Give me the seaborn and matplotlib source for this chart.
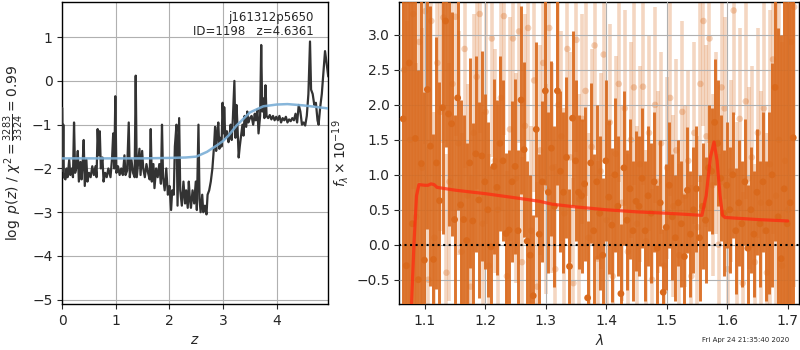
import numpy as np
import pandas as pd
import matplotlib
matplotlib.use("Agg")
import matplotlib.pyplot as plt
import seaborn as sns

# ---------------- data: left panel (log p(z)) ----------------
z_grid = [0.00, 0.01, 0.02, 0.03, 0.06, 0.08, 0.10, 0.13, 0.15, 0.18, 0.20, 0.22, 0.24, 0.27, 0.29,
          0.31, 0.34, 0.36, 0.38, 0.40, 0.42, 0.45, 0.47, 0.50, 0.53, 0.56, 0.59, 0.62, 0.64, 0.66,
          0.68, 0.70, 0.72, 0.75, 0.77, 0.80, 0.83, 0.86, 0.90, 0.93, 0.95, 0.97, 0.99, 1.01, 1.04,
          1.07, 1.10, 1.13, 1.16, 1.18, 1.21, 1.24, 1.26, 1.29, 1.32, 1.35, 1.37, 1.39, 1.42, 1.44,
          1.46, 1.49, 1.51, 1.54, 1.57, 1.60, 1.63, 1.65, 1.67, 1.70, 1.72, 1.75, 1.78, 1.81, 1.84,
          1.86, 1.88, 1.91, 1.94, 1.97, 2.00, 2.03, 2.05, 2.08, 2.10, 2.13, 2.15, 2.18, 2.20, 2.23,
          2.26, 2.29, 2.31, 2.34, 2.36, 2.38, 2.40, 2.43, 2.46, 2.49, 2.51, 2.54, 2.56, 2.58, 2.61,
          2.63, 2.66, 2.69, 2.71, 2.74, 2.77, 2.80, 2.83, 2.85, 2.87, 2.89, 2.91, 2.93, 2.95, 2.97,
          2.99, 3.01, 3.02, 3.04, 3.07, 3.10, 3.12, 3.14, 3.16, 3.18, 3.21, 3.23, 3.25, 3.27, 3.29,
          3.31, 3.33, 3.36, 3.38, 3.40, 3.43, 3.45, 3.47, 3.50, 3.53, 3.56, 3.59, 3.61, 3.64, 3.66,
          3.69, 3.71, 3.73, 3.75, 3.77, 3.79, 3.81, 3.84, 3.87, 3.90, 3.93, 3.96, 3.99, 4.02, 4.05,
          4.08, 4.11, 4.14, 4.17, 4.20, 4.23, 4.26, 4.29, 4.32, 4.35, 4.38, 4.41, 4.44, 4.47, 4.50,
          4.53, 4.56, 4.59, 4.62, 4.64, 4.67, 4.70, 4.73, 4.76, 4.78, 4.81, 4.84, 4.87, 4.90, 4.93,
          4.96]
logpz = [-0.62, -2.05, -1.00, -2.20, -2.25, -2.00, -2.20, -1.80, -2.15, -2.00, -2.20, -0.95, -2.10, -1.95, -1.60,
         -2.30, -1.85, -2.25, -1.90, -1.35, -2.40, -1.80, -2.30, -2.10, -2.20, -1.95, -2.15, -1.95, -2.20, -1.10,
         -1.70, -1.15, -2.00, -1.75, -2.30, -2.10, -2.20, -2.00, -2.20, -1.75, -1.20, -2.00, -0.35, -2.10, -1.95,
         -2.15, -2.00, -2.15, -1.70, -2.15, -2.05, -0.95, -2.20, -1.80, -2.10, -2.20, 0.12, -2.20, -1.80, -1.55,
         -2.15, -1.60, -2.00, -2.20, -1.90, -2.10, -2.25, -1.10, -2.30, -1.90, -2.45, -2.00, -2.20, -1.90, -2.35,
         -1.00, -2.20, -2.50, -2.00, -2.60, -2.40, -2.95, -2.50, -2.60, -1.50, -1.00, -2.85, -0.85, -2.50, -2.85,
         -2.30, -2.80, -2.50, -2.90, -2.30, -2.70, -2.90, -2.50, -2.80, -2.30, -2.95, -1.00, -2.70, -3.00, -2.60,
         -3.00, -2.85, -3.05, -2.60, -2.50, -2.30, -2.00, -1.50, -1.05, -1.60, -1.20, -0.95, -1.55, -1.30, -1.50,
         -0.50, -1.20, -0.60, -1.30, -1.15, -1.40, -1.25, -1.00, -1.35, -0.90, 0.00, -1.30, -0.55, -1.10, -1.75,
         -1.50, -1.30, -1.00, -1.25, -0.80, -1.05, -0.70, -0.95, -0.85, -0.80, -1.00, -0.75, -0.90, -0.65, -1.20,
         -0.80, 0.82, -0.70, -0.40, -0.85, -0.10, -0.80, -0.85, -0.78, -0.88, -0.80, -0.90, -0.82, -0.90, -0.80,
         -0.95, -0.85, -0.90, -0.82, -0.95, -0.88, -0.92, -0.85, -0.90, -0.75, -0.95, -0.55, -0.70, -1.00, -0.95,
         -1.02, -0.80, -0.30, 0.90, -0.20, -0.30, -0.55, -0.50, -0.90, -1.00, -0.60, -0.30, 0.20, 0.68, 0.40,
         0.10]
z_prior = [0.0, 0.5, 1.0, 1.5, 2.0, 2.3, 2.5, 2.7, 2.9, 3.0, 3.1, 3.25, 3.5, 3.75, 4.0, 4.2, 4.5, 4.7, 4.96]
logp_prior = [-1.77, -1.77, -1.77, -1.77, -1.76, -1.75, -1.73, -1.62, -1.46, -1.37, -1.25, -1.02, -0.72, -0.58, -0.54,
              -0.53, -0.56, -0.59, -0.63]

# ---------------- data: right panel (spectrum) ----------------
dark_lam_start, dark_lam_step = 1.064, 0.005
dark_flux = [1.80, -0.30, 2.60,
             0.30, 1.52, -0.50, 1.16, -0.22, 2.22, 1.41, -0.21, 1.17, 0.63,
             1.96, 3.20, 1.87, 1.73, 0.36, 2.10, 0.57, 0.36, 0.06, 1.17,
             0.34, 1.30, 0.64, 1.27, 0.90, 0.50, -0.03, 1.12, 0.82, 1.45,
             1.20, 0.16, 0.21, 0.90, 1.12, 0.20, 2.07, 1.36, 0.05, -0.15,
             -0.73, 1.65, 0.15, 0.90, 2.20, 0.75, 1.38, 0.55, 2.20, 1.05,
             0.75, 1.25, -0.31, 1.81, 1.20, 0.75, 0.70, 0.87, -0.76, 1.17,
             0.20, 0.90, 0.45, -0.15, 1.20, 0.68, 0.28, 1.00, 0.55, -0.70,
             1.10, 0.35, 0.80, 0.20, 0.62, 0.55, 0.95, 0.20, 0.70, 0.45,
             0.90, -0.05, 0.60, -0.68, 0.25, 0.85, 0.40, 0.10, 0.60, 0.30,
             -0.17, 0.78, 0.15, 0.50, 0.80, 0.10, 0.55, 0.35, 1.10, 1.05,
             1.75, 1.45, 0.95, 0.45, 0.85, 0.50, 1.00, 0.20, 0.60, 0.30,
             0.90, -0.05, 0.50, 0.15, 0.75, 0.30, 0.90, 0.20, 0.60, 1.00,
             2.25, 0.40, -0.20, 0.80, 0.30, 0.60, 1.53]
dark_err = [6.0, 6.0, 5.0,
            4.0, 3.5, 3.0, 2.6, 2.4, 2.0, 2.0, 1.8, 1.8, 1.7,
            1.8, 1.8, 1.6, 1.6, 1.5, 1.6, 1.5, 1.5, 1.4, 1.5,
            1.4, 1.4, 1.4, 1.5, 1.25, 1.25, 1.15, 1.25, 1.25, 1.25,
            1.15, 1.15, 1.15, 1.15, 1.25, 1.15, 1.35, 1.25, 1.15, 1.15,
            1.15, 1.25, 1.15, 1.15, 1.35, 1.15, 1.25, 1.15, 1.35, 1.15,
            1.15, 1.15, 1.1, 1.25, 1.15, 1.1, 1.1, 1.1, 1.1, 1.15,
            1.1, 1.1, 1.1, 1.1, 1.15, 1.1, 1.1, 1.1, 1.0, 1.0,
            1.1, 1.0, 1.0, 1.0, 1.0, 1.0, 1.0, 1.0, 1.0, 1.0,
            1.0, 0.9, 0.9, 0.9, 0.9, 0.9, 0.9, 0.9, 0.9, 0.9,
            0.9, 0.9, 0.9, 0.9, 0.9, 0.9, 0.9, 0.9, 0.9, 0.9,
            0.9, 0.9, 0.9, 0.9, 0.9, 0.9, 0.9, 0.9, 0.9, 0.9,
            0.9, 0.9, 0.9, 0.9, 0.9, 0.9, 1.0, 1.0, 1.3, 1.6,
            2.2, 2.7, 3.2, 3.6, 4.0, 4.0, 4.0]

light_lam_start, light_lam_step = 1.0655, 0.005
light_flux = [2.50, -0.30, 1.50, 3.30, 0.40, 2.90, 1.10, 3.34, -0.50, 3.20,
              0.10, 2.60, 1.90, 3.25, -0.40, 0.90, 2.30, 3.26, 1.45, -0.10,
              2.80, 0.70, -0.60, 1.60, 2.40, 3.30, 0.30, 1.90, -0.30, 2.95,
              1.20, 0.50, 2.10, 3.27, -0.45, 1.65, 2.95, 0.95, 3.05, -0.25,
              1.70, 3.10, 0.20, 2.35, -0.60, 1.35, 2.60, 0.80, 3.10, 1.10,
              -0.35, 2.00, 1.55, 0.45, 2.80, 1.25, -0.55, 2.93, 0.65, 1.80,
              2.20, 0.10, 1.40, 2.85, -0.20, 1.05, 2.72, 0.35, 1.75, -0.45,
              1.30, 2.30, 0.60, 1.95, -0.10, 1.50, 2.25, 0.30, 1.15, 2.26,
              0.05, 1.60, -0.50, 2.00, 0.90, 1.45, -0.30, 1.10, 2.10, 0.55,
              1.35, -0.15, 1.90, 0.70, 1.20, -0.45, 1.60, 0.25, 2.30, 3.20,
              1.55, 2.95, 0.85, 1.45, 0.00, 2.25, 1.95, -0.35, 1.05, 3.35,
              0.45, 1.80, -0.55, 2.05, 0.95, 1.25, -0.25, 1.60, 0.60, 1.95,
              -0.40, 1.15, 2.65, 0.70, 1.50, -0.30, 1.20, 0.50, 2.90, 3.40]
light_err = [4.0, 3.5, 3.0, 2.5, 2.2, 2.0, 2.0, 1.9, 1.9, 1.8,
             1.8, 1.8, 1.7, 1.8, 1.7, 1.7, 1.8, 1.7, 1.6, 1.7,
             1.7, 1.6, 1.6, 1.7, 1.6, 1.7, 1.6, 1.6, 1.6, 1.7,
             1.6, 1.5, 1.6, 1.7, 1.5, 1.6, 1.6, 1.5, 1.6, 1.5,
             1.6, 1.6, 1.5, 1.6, 1.5, 1.5, 1.6, 1.5, 1.6, 1.5,
             1.5, 1.5, 1.5, 1.5, 1.6, 1.5, 1.5, 1.6, 1.5, 1.5,
             1.5, 1.5, 1.4, 1.5, 1.4, 1.4, 1.5, 1.4, 1.4, 1.4,
             1.4, 1.4, 1.4, 1.4, 1.4, 1.4, 1.4, 1.4, 1.4, 1.4,
             1.3, 1.4, 1.3, 1.4, 1.3, 1.3, 1.3, 1.3, 1.4, 1.3,
             1.3, 1.3, 1.3, 1.3, 1.3, 1.3, 1.3, 1.3, 1.4, 1.5,
             1.3, 1.5, 1.3, 1.3, 1.3, 1.4, 1.3, 1.3, 1.3, 1.5,
             1.3, 1.3, 1.3, 1.4, 1.3, 1.3, 1.4, 1.5, 1.6, 1.8,
             2.0, 2.2, 2.5, 2.8, 3.0, 3.2, 3.5, 3.8, 4.0, 4.0]

model_lam = [1.0775, 1.0820, 1.0860, 1.0900, 1.1000, 1.1050, 1.1100, 1.1150, 1.1200, 1.1500,
             1.2000, 1.2500, 1.2900, 1.3100, 1.3500, 1.4000, 1.4500, 1.5000, 1.5400, 1.5580,
             1.5650, 1.5720, 1.5780, 1.5830, 1.5880, 1.5920, 1.5960, 1.6500, 1.7000]
model_flux = [-0.90, 0.05, 0.70, 0.86, 0.85, 0.85, 0.87, 0.86, 0.82, 0.78,
              0.73, 0.67, 0.62, 0.58, 0.54, 0.50, 0.47, 0.45, 0.43, 0.42,
              0.70, 1.25, 1.47, 1.20, 0.70, 0.42, 0.39, 0.36, 0.34]

annot_text = "j161312p5650\nID=1198   z=4.6361"
stamp_text = "Fri Apr 24 21:35:40 2020"

# ---------------- build frames ----------------
dark_lam = dark_lam_start + dark_lam_step * np.arange(len(dark_flux))
light_lam = light_lam_start + light_lam_step * np.arange(len(light_flux))
df_pz = pd.DataFrame({"z": z_grid, "logp": logpz})
df_prior = pd.DataFrame({"z": z_prior, "logp": logp_prior})
df_dark = pd.DataFrame({"lam": dark_lam, "flux": dark_flux, "err": dark_err})
df_light = pd.DataFrame({"lam": light_lam, "flux": light_flux, "err": light_err})
df_model = pd.DataFrame({"lam": model_lam, "flux": model_flux})

sns.set_style("white")
plt.rcParams["font.family"] = ["DejaVu Sans"]
plt.rcParams["mathtext.fontset"] = "dejavusans"

fig = plt.figure(figsize=(8, 3.5), dpi=100)
ax1 = fig.add_axes([0.0778, 0.131, 0.3325, 0.863])
ax2 = fig.add_axes([0.4991, 0.131, 0.5, 0.863])

orange = "#d9691c"

# left panel
sns.lineplot(data=df_pz, x="z", y="logp", ax=ax1, color="#333333", lw=1.6,
             sort=False, estimator=None, zorder=3)
sns.lineplot(data=df_prior, x="z", y="logp", ax=ax1, color="#7aaed6", lw=1.8,
             sort=False, estimator=None, zorder=4, alpha=0.9)
ax1.set_xlim(0, 4.96)
ax1.set_ylim(-5.1, 1.8)
ax1.set_xticks([0, 1, 2, 3, 4])
ax1.set_yticks([-5, -4, -3, -2, -1, 0, 1])
ax1.grid(True, color="#b0b0b0", lw=0.8)
ax1.set_xlabel("$z$", fontsize=10)
ax1.set_ylabel(r"$\log\ p(z)$ / $\chi^2=\frac{3283}{3324}=0.99$", fontsize=10)
ax1.text(0.945, 0.97, annot_text, transform=ax1.transAxes, ha="right", va="top",
         fontsize=8.5, linespacing=1.1, zorder=5)

# right panel
ax2.errorbar(df_light["lam"], df_light["flux"], yerr=df_light["err"], fmt="none",
             ecolor=orange, elinewidth=2.6, alpha=0.27, zorder=2)
sns.scatterplot(data=df_light, x="lam", y="flux", ax=ax2, color=orange, s=22,
                alpha=0.3, edgecolor="none", zorder=2)
ax2.errorbar(df_dark["lam"], df_dark["flux"], yerr=df_dark["err"], fmt="none",
             ecolor=orange, elinewidth=2.1, alpha=0.92, zorder=3)
sns.scatterplot(data=df_dark, x="lam", y="flux", ax=ax2, color=orange, s=24,
                edgecolor="none", zorder=4)
sns.lineplot(data=df_model, x="lam", y="flux", ax=ax2, color="#ff2a10", lw=2.3,
             alpha=0.75, sort=False, estimator=None, zorder=5)
ax2.axhline(0, color="black", ls=":", lw=1.5, zorder=6)
ax2.set_xlim(1.0575, 1.719)
ax2.set_ylim(-0.85, 3.47)
ax2.set_xticks([1.1, 1.2, 1.3, 1.4, 1.5, 1.6, 1.7])
ax2.set_yticks([-0.5, 0.0, 0.5, 1.0, 1.5, 2.0, 2.5, 3.0])
ax2.grid(True, color="#b0b0b0", lw=0.8)
ax2.set_axisbelow(False)
ax2.set_xlabel(r"$\lambda$", fontsize=10)
ax2.set_ylabel(r"$f_\lambda\times10^{-19}$", fontsize=10)

for ax in (ax1, ax2):
    ax.tick_params(direction="out", length=3.5, width=0.8, labelsize=10, left=True, bottom=True)
    for s in ax.spines.values():
        s.set_color("black")
        s.set_linewidth(1.0)

fig.text(0.986, 0.02, stamp_text, ha="right", va="bottom", fontsize=5)

fig.savefig("out.png", dpi=100)
